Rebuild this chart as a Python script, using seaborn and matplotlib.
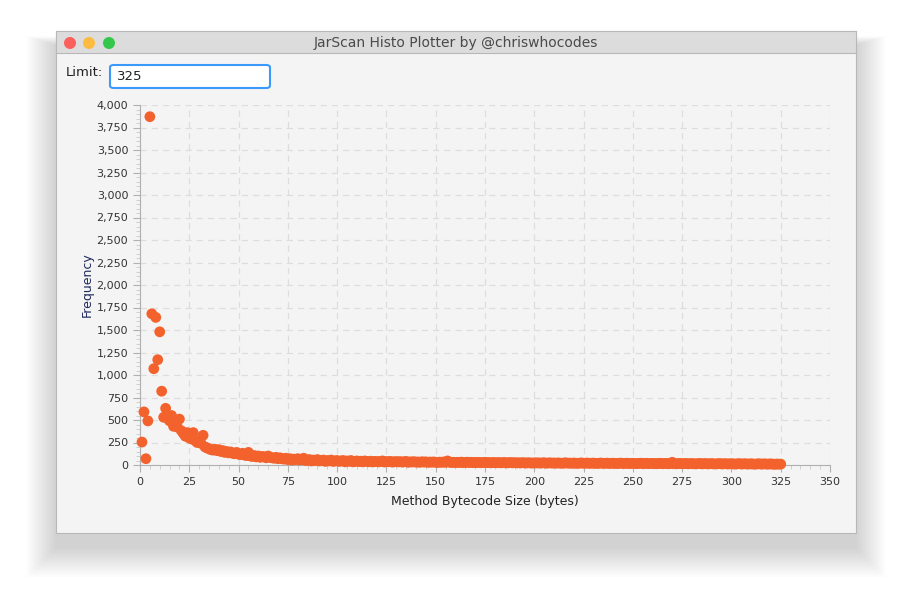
import matplotlib

matplotlib.use("Agg")
import matplotlib.pyplot as plt
import numpy as np
import pandas as pd
import seaborn as sns
from matplotlib.patches import FancyBboxPatch, Rectangle, Ellipse
from matplotlib.ticker import MultipleLocator, FuncFormatter

FREQ_HEAD = [255, 590, 70, 490, 3870, 1680, 1070, 1640, 1170, 1480, 820, 530, 630,
             520, 490, 550, 430, 470, 420, 510, 380, 350, 320, 360, 300, 290, 360,
             270, 250, 260, 240, 330, 200]
FREQ_TAIL = [
    190, 180, 170, 165, 175, 160, 170,
    150, 160, 140, 150, 135, 145, 130, 125, 140, 120,
    115, 130, 110, 105, 140, 100, 95, 105, 90, 100,
    85, 95, 90, 80, 100, 85, 80, 75, 85, 70,
    80, 70, 65, 75, 60, 70, 55, 65, 60, 70,
    55, 60, 75, 50, 55, 60, 45, 55, 50, 60,
    45, 50, 55, 40, 50, 45, 55, 40, 45, 50,
    40, 45, 50, 35, 45, 40, 50, 35, 40, 45,
    38, 42, 35, 45, 40, 36, 42, 34, 40, 38,
    35, 40, 45, 33, 38, 36, 40, 32, 36, 38,
    34, 38, 32, 36, 40, 30, 35, 33, 37, 31,
    34, 30, 36, 32, 35, 29, 33, 31, 34, 30,
    28, 32, 30, 34, 29, 45, 31, 28, 30, 27,
    30, 28, 32, 26, 29, 31, 27, 30, 26, 28,
    27, 29, 25, 28, 30, 26, 27, 24, 28, 26,
    25, 27, 24, 26, 28, 23, 25, 27, 24, 26,
    23, 25, 22, 26, 24, 22, 25, 23, 21, 24,
    22, 24, 21, 23, 25, 20, 22, 24, 21, 22,
    20, 23, 21, 19, 22, 24, 20, 21, 19, 22,
    20, 18, 21, 23, 19, 20, 22, 18, 20, 21,
    19, 17, 20, 22, 18, 19, 21, 17, 19, 20,
    18, 16, 19, 21, 17, 18, 20, 16, 18, 19,
    17, 15, 18, 20, 16, 17, 19, 15, 17, 18,
    16, 14, 17, 19, 15, 16, 18, 14, 16, 30,
    15, 13, 16, 18, 14, 15, 17, 13, 15, 16,
    14, 12, 15, 17, 13, 14, 16, 12, 14, 15,
    13, 11, 14, 16, 12, 13, 15, 11, 13, 14,
    12, 10, 13, 15, 11, 12, 14, 10, 12, 13,
    11, 9, 12, 14, 10, 11, 13, 9, 11, 12,
    10, 8, 11, 9, 10,
]
FREQ = FREQ_HEAD + FREQ_TAIL
SIZES = list(range(1, len(FREQ) + 1))

W, H = 912, 614
fig = plt.figure(figsize=(W / 100, H / 100), dpi=100)
fig.patch.set_facecolor("white")


def px(x, y):
    return x / W, 1 - y / H


def frect(x0, y0, x1, y1, **kw):
    fig.patches.append(Rectangle(px(x0, y1), (x1 - x0) / W, (y1 - y0) / H,
                                 transform=fig.transFigure, **kw))


# ombre douce sous la fenêtre
for d in range(1, 30, 2):
    frect(56 - d, 45 - d * 0.3, 856 + d, 548 + d, color="black", alpha=0.012, lw=0)
# fenêtre
frect(56, 31, 856, 533, facecolor="#f4f4f4", edgecolor="#b8b8b8", lw=0.8)
frect(56, 31, 856, 53, facecolor="#dcdcdc", edgecolor="#b8b8b8", lw=0.8)
for cx, col in [(70, "#fc605c"), (89, "#fdbc40"), (109, "#34c84a")]:
    fig.patches.append(Ellipse(px(cx, 43), 12 / W, 12 / H, transform=fig.transFigure,
                               color=col, lw=0))
fig.text(*px(456, 43), "JarScan Histo Plotter by @chriswhocodes", ha="center",
         va="center", fontsize=10, color="#4a4a4a")
fig.text(*px(66, 73), "Limit:", ha="left", va="center", fontsize=9.5, color="#222222")
fig.patches.append(FancyBboxPatch(px(110, 88), 160 / W, 23 / H, transform=fig.transFigure,
                                  boxstyle="round,pad=0,rounding_size=0.004",
                                  facecolor="white", edgecolor="#3b99fc", lw=1.5))
fig.text(*px(117, 77), "325", ha="left", va="center", fontsize=9.5, color="#222222")

ax = fig.add_axes([140 / W, 1 - 465 / H, 690 / W, 360 / H])
ax.set_zorder(5)
ax.set_facecolor("#f4f4f4")
df = pd.DataFrame({"size": SIZES, "freq": FREQ})
sns.scatterplot(data=df, x="size", y="freq", ax=ax, color="#f3622d", s=60,
                edgecolor="none", zorder=3, clip_on=False)
ax.set_xlim(0, 350)
ax.set_ylim(0, 4000)
ax.xaxis.set_major_locator(MultipleLocator(25))
ax.xaxis.set_minor_locator(MultipleLocator(5))
ax.yaxis.set_major_locator(MultipleLocator(250))
ax.yaxis.set_minor_locator(MultipleLocator(50))
ax.yaxis.set_major_formatter(FuncFormatter(lambda v, p: f"{int(v):,}"))
ax.grid(True, which="major", color="#dddddd", linestyle=(0, (5, 4)), lw=0.9)
ax.set_axisbelow(True)
for s in ["top", "right"]:
    ax.spines[s].set_visible(False)
for s in ["left", "bottom"]:
    ax.spines[s].set_color("#b0b0b0")
ax.tick_params(which="major", length=5, color="#b0b0b0", labelsize=8, labelcolor="#333333")
ax.tick_params(which="minor", length=3, color="#c8c8c8")
ax.set_xlabel("Method Bytecode Size (bytes)", fontsize=9, color="#222222", labelpad=6)
ax.set_ylabel("Frequency", fontsize=9, color="#1f2a5c", labelpad=2)

fig.savefig("out.png", dpi=100, facecolor="white")
